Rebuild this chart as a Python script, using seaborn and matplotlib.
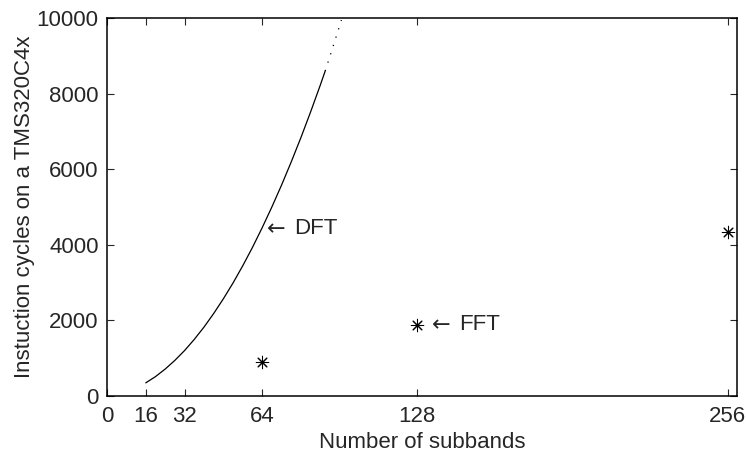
import matplotlib
matplotlib.use("Agg")
import matplotlib.pyplot as plt
import seaborn as sns
import pandas as pd

# DFT cost curve (solid part) and its dotted continuation
dft_n = [16, 20, 24, 28, 32, 36, 40, 44, 48, 52, 56, 60, 64, 68, 72, 76,
         80, 84, 88, 90]
dft_cycles = [345, 510, 710, 940, 1200, 1495, 1820, 2180, 2570, 2990, 3445,
              3930, 4450, 5000, 5580, 6195, 6840, 7520, 8230, 8600]
dft_ext_n = [90, 93, 96.7]
dft_ext_cycles = [8600, 9200, 9950]

# FFT cost at power-of-two subband counts
fft_n = [64, 128, 256]
fft_cycles = [890, 1880, 4330]

xticks = [0, 16, 32, 64, 128, 256]
yticks = [0, 2000, 4000, 6000, 8000, 10000]

sns.set_style("ticks")
plt.rcParams["font.family"] = ["Liberation Sans", "DejaVu Sans"]
FS = 16

fig = plt.figure(figsize=(7.46, 4.54), dpi=100)
ax = fig.add_axes([0.1434, 0.128, 0.845, 0.832])

dft = pd.DataFrame({"n": dft_n, "cycles": dft_cycles})
dft_ext = pd.DataFrame({"n": dft_ext_n, "cycles": dft_ext_cycles})
fft = pd.DataFrame({"n": fft_n, "cycles": fft_cycles})

sns.lineplot(data=dft, x="n", y="cycles", ax=ax, color="black", lw=0.9,
             sort=False, estimator=None)
sns.lineplot(data=dft_ext, x="n", y="cycles", ax=ax, color="black", lw=0.9,
             linestyle=(0, (1, 6)), sort=False, estimator=None)
sns.scatterplot(data=fft, x="n", y="cycles", ax=ax, marker=(8, 2, 0),
                s=80, color="black", linewidth=0.75, edgecolor="black")

# annotations: a long arrow followed by the method name
for x0, y0, name in [(66.0, 4420, "DFT"), (134.0, 1880, "FFT")]:
    ax.text(x0, y0, "\u2190", ha="left", va="center", fontsize=FS,
            family=["DejaVu Sans"])
    ax.text(x0 + 11.3, y0, name, ha="left", va="center", fontsize=FS)

ax.set_xlim(0, 260)
ax.set_ylim(0, 10000)
ax.set_xticks(xticks)
ax.set_yticks(yticks)
ax.set_xlabel("Number of subbands", fontsize=FS, labelpad=4)
ax.set_ylabel("Instuction cycles on a TMS320C4x", fontsize=FS, labelpad=1.5)
ax.tick_params(direction="in", length=5, width=0.8, top=True, right=True,
               labelsize=FS)
ax.tick_params(axis="x", pad=7)
ax.tick_params(axis="y", pad=6)
for sp in ax.spines.values():
    sp.set_visible(True)
    sp.set_linewidth(1.1)
    sp.set_color("black")

fig.savefig("out.png", dpi=100)
